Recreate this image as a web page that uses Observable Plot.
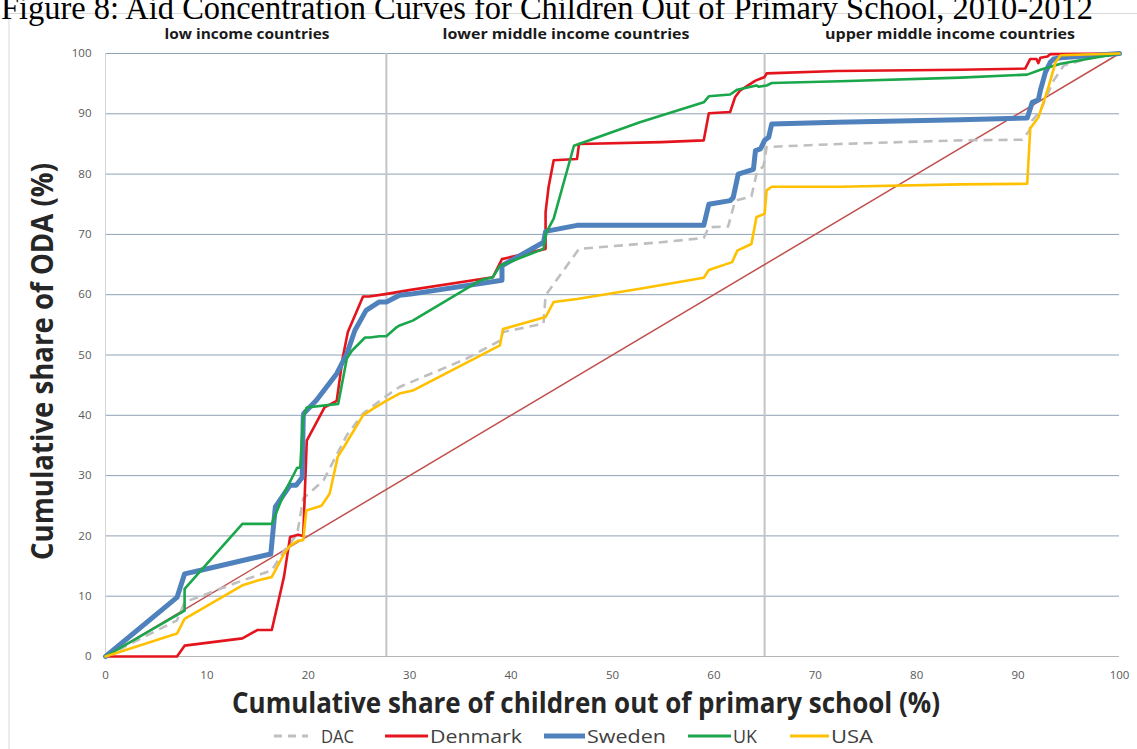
<!DOCTYPE html>
<html>
<head>
<meta charset="utf-8">
<script src="https://cdn.jsdelivr.net/npm/d3@7"></script>
<script src="https://cdn.jsdelivr.net/npm/@observablehq/plot@0.6"></script>
<style>
  html, body { margin: 0; padding: 0; background: #fff; }
  #wrap { position: relative; width: 1137px; height: 749px; overflow: hidden; background: #fff; }
  #wrap > svg { position: absolute; left: 0; top: 0; }
  #overlay { pointer-events: none; }
</style>
</head>
<body>
<div id="wrap"></div>
<script>
// ---------- DATA ----------
const chartTitle = "Figure 8: Aid Concentration Curves for Children Out of Primary School, 2010-2012";
const xTitle = "Cumulative share of children out of primary school (%)";
const yTitle = "Cumulative share of ODA  (%)";
const xTicks = [0, 10, 20, 30, 40, 50, 60, 70, 80, 90, 100];
const yTicks = [0, 10, 20, 30, 40, 50, 60, 70, 80, 90, 100];
const incomeGroups = ["low income countries", "lower middle  income countries", "upper middle  income countries"];
const incomeBoundaries = [27.7, 65.0];
const seriesNames = ["DAC", "Denmark", "Sweden", "UK", "USA"];

const equalityPoints = [[0, 0], [100, 100]];

const dacPoints = [[0,0],[7.05,6.0],[7.8,9.0],[13.5,12.6],[16.4,14.3],[17.6,17.5],[18.9,20.3],[19.5,26.2],[21.5,29.2],[23.8,36.7],[25.4,40.3],[27.7,43.2],[29.0,44.7],[35.6,49.4],[38.9,52.4],[39.2,53.8],[43.2,55.2],[43.4,59.9],[46.7,67.6],[54.8,68.7],[59.0,69.4],[59.5,71.2],[61.4,71.3],[62.1,75.6],[63.7,76.3],[64.2,80.0],[64.9,81.4],[65.2,84.5],[72.4,85.0],[84.3,85.6],[90.4,85.7],[91.1,87.2],[91.4,88.9],[92.2,90.5],[93.5,95.5],[94.5,98.0],[97.4,99.4],[100,100]];

const denmarkPoints = [[0,0],[7.05,0],[7.8,1.8],[13.5,3.0],[15.0,4.4],[16.4,4.4],[17.6,13.2],[18.2,19.8],[19.0,20.2],[19.5,20.0],[19.85,35.8],[21.6,41.3],[22.8,42.4],[23.4,49.6],[23.9,53.8],[25.4,59.7],[26.0,59.7],[27.6,60.1],[30.1,60.8],[38.2,62.9],[39.1,65.9],[43.4,67.6],[43.4,73.7],[43.7,77.9],[44.2,82.3],[46.5,82.5],[46.7,85.0],[54.8,85.3],[59.0,85.6],[59.5,90.1],[61.6,90.3],[62.1,92.8],[62.6,93.9],[64.1,95.5],[65.0,96.1],[65.2,96.7],[72.1,97.1],[84.3,97.3],[90.7,97.5],[91.2,99.1],[91.8,99.1],[92.0,98.4],[92.2,99.3],[92.9,99.5],[93.2,99.9],[100,100]];

const swedenPoints = [[0,0],[7.05,9.8],[7.8,13.7],[9.4,14.3],[16.3,17.0],[16.75,24.8],[18.2,28.4],[18.8,28.4],[19.4,29.7],[19.5,39.7],[19.55,40.3],[20.8,42.5],[22.8,46.9],[23.8,50.2],[24.6,54.1],[25.7,57.4],[27.0,58.8],[27.7,58.8],[29.0,59.9],[30.1,60.1],[39.1,62.4],[39.1,64.8],[43.2,68.7],[43.4,70.5],[46.5,71.5],[54.8,71.5],[59.0,71.5],[59.5,75.0],[61.6,75.6],[61.9,76.1],[62.4,80.0],[63.9,80.8],[64.1,83.9],[64.6,84.2],[65.0,85.6],[65.4,86.1],[65.7,88.3],[72.1,88.6],[84.3,89.0],[90.9,89.3],[91.4,91.9],[92.0,92.3],[92.2,93.9],[92.7,96.9],[93.2,98.6],[93.5,99.1],[94.2,99.3],[100,100]];

const ukPoints = [[0,0],[7.8,7.6],[7.8,11.2],[13.5,22.0],[16.4,22.0],[17.6,27.0],[18.9,31.3],[19.2,31.3],[19.5,39.7],[19.85,41.3],[22.95,41.9],[23.8,49.4],[24.3,50.7],[25.6,52.9],[26.1,52.9],[27.0,53.1],[27.7,53.1],[28.7,54.6],[29.0,54.9],[30.3,55.7],[37.0,62.4],[38.2,62.9],[38.9,64.8],[43.2,67.6],[43.4,70.1],[44.2,72.6],[46.2,84.7],[52.7,88.6],[59.0,91.9],[59.5,92.9],[61.6,93.2],[62.3,94.0],[64.2,94.7],[64.4,94.5],[65.2,94.7],[65.7,95.1],[72.4,95.4],[84.3,96.0],[90.9,96.5],[92.2,97.3],[94.2,98.3],[96.8,99.1],[100,100]];

const usaPoints = [[0,0],[7.05,3.8],[7.8,6.25],[13.5,11.8],[15.0,12.6],[16.4,13.2],[17.6,17.0],[18.2,18.4],[19.0,19.2],[19.5,19.3],[19.8,24.2],[21.3,25.0],[22.1,27.0],[22.9,33.1],[23.5,34.7],[24.1,36.4],[25.4,40.0],[26.4,41.1],[27.8,42.5],[29.0,43.6],[30.3,44.1],[38.9,51.6],[39.2,54.3],[43.4,56.3],[44.2,58.8],[46.5,59.3],[52.7,61.0],[59.0,62.8],[59.5,64.1],[61.8,65.4],[62.3,67.3],[63.7,68.4],[64.2,72.9],[65.0,73.4],[65.2,77.3],[65.7,77.9],[72.4,77.9],[84.3,78.3],[90.9,78.4],[91.2,87.6],[92.0,89.4],[92.9,93.9],[93.7,98.6],[94.2,99.7],[100,100]];

// ---------- STYLES ----------
const seriesStyle = {
  DAC:     {stroke: "#bfbfbf", width: 2.6, dash: "9,6"},
  Denmark: {stroke: "#e3141c", width: 2.6, dash: null},
  Sweden:  {stroke: "#4f81bd", width: 5,   dash: null},
  UK:      {stroke: "#1aa64a", width: 2.6, dash: null},
  USA:     {stroke: "#ffc000", width: 2.6, dash: null}
};
const seriesPoints = {DAC: dacPoints, Denmark: denmarkPoints, Sweden: swedenPoints, UK: ukPoints, USA: usaPoints};

const toRows = pts => pts.map(([x, y]) => ({x, y}));

const lineMarks = seriesNames.map(name => Plot.line(toRows(seriesPoints[name]), {
  x: "x", y: "y",
  stroke: seriesStyle[name].stroke,
  strokeWidth: seriesStyle[name].width,
  strokeDasharray: seriesStyle[name].dash,
  strokeLinejoin: "round",
  strokeLinecap: name === "DAC" ? "butt" : "round"
}));

const W = 1137, H = 749;
const mL = 105, mR = 18, mT = 53, mB = 93;

const chart = Plot.plot({
  width: W, height: H,
  marginLeft: mL, marginRight: mR, marginTop: mT, marginBottom: mB,
  style: {fontFamily: "'Open Sans', sans-serif", fontSize: "11.5px", color: "#595959", background: "transparent", overflow: "visible"},
  x: {domain: [0, 100], label: null},
  y: {domain: [0, 100], label: null},
  marks: [
    Plot.ruleY(yTicks.filter(d => d > 0), {stroke: "#8ea2b6", strokeWidth: 1}),
    Plot.ruleY([0], {stroke: "#b4b4b4", strokeWidth: 1}),
    Plot.ruleX([0], {stroke: "#d4d4d4", strokeWidth: 1}),
    Plot.ruleX(incomeBoundaries, {stroke: "#c4c4c4", strokeWidth: 2}),
    Plot.line(toRows(equalityPoints), {x: "x", y: "y", stroke: "#c0504d", strokeWidth: 1.5}),
    ...lineMarks,
    Plot.axisX({ticks: xTicks, tickSize: 0, tickPadding: 14, tickFormat: d => d, label: null}),
    Plot.axisY({ticks: yTicks, tickSize: 0, tickPadding: 14, tickFormat: d => d, label: null})
  ]
});

const wrap = document.getElementById("wrap");

// overlay for frame, titles, group labels, legend
const ov = d3.create("svg").attr("id", "overlay").attr("width", W).attr("height", H)
  .attr("viewBox", `0 0 ${W} ${H}`);

// chart-area border (behind)
const bg = d3.create("svg").attr("width", W).attr("height", H);
bg.append("rect").attr("x", 9).attr("y", 13.5).attr("width", W + 20).attr("height", H + 20)
  .attr("fill", "#fff").attr("stroke", "#d9d9d9").attr("stroke-width", 1);
wrap.appendChild(bg.node());
wrap.appendChild(chart);
wrap.appendChild(ov.node());

function addText(t, o) {
  const el = ov.append("text").text(t)
    .attr("x", o.x).attr("y", o.y)
    .attr("font-family", o.family || "'Open Sans', sans-serif")
    .attr("font-size", o.size)
    .attr("font-weight", o.weight || "normal")
    .attr("fill", o.fill || "#000")
    .attr("text-anchor", o.anchor || "start");
  if (o.len) el.attr("textLength", o.len).attr("lengthAdjust", "spacingAndGlyphs");
  if (o.rotate) el.attr("transform", `rotate(${o.rotate} ${o.x} ${o.y})`);
  return el;
}

// title (partly cut at the top, as in the reference)
addText(chartTitle, {x: 1, y: 19, size: 34, family: "'Liberation Serif', 'Times New Roman', serif", len: 1092});

// income group labels
const groupCenters = [247, 566, 950];
const groupWidths = [165, 247, 250];
incomeGroups.forEach((g, i) => {
  addText(g, {x: groupCenters[i] - groupWidths[i] / 2, y: 39, size: 14.5, weight: "bold", fill: "#1a1a1a", len: groupWidths[i]});
});

// axis titles
addText(xTitle, {x: 232, y: 713, size: 28, weight: "bold", fill: "#262626", len: 708});
addText(yTitle, {x: 53, y: 560, size: 30, weight: "bold", fill: "#262626", len: 397, rotate: -90});

// legend
const legendSym = [[274, 308], [385, 428], [544, 585], [688, 731], [790, 829]];
const legendTxt = [[321, 33], [430, 92], [587, 79], [733, 24], [831, 42]];
const legY = 736;
seriesNames.forEach((name, i) => {
  const s = seriesStyle[name];
  ov.append("line").attr("x1", legendSym[i][0]).attr("x2", legendSym[i][1])
    .attr("y1", legY).attr("y2", legY)
    .attr("stroke", s.stroke).attr("stroke-width", name === "Sweden" ? 5 : 3)
    .attr("stroke-dasharray", s.dash ? "8,6" : null);
  addText(name, {x: legendTxt[i][0], y: 743, size: 19, fill: "#404040", len: legendTxt[i][1]});
});
</script>
</body>
</html>
